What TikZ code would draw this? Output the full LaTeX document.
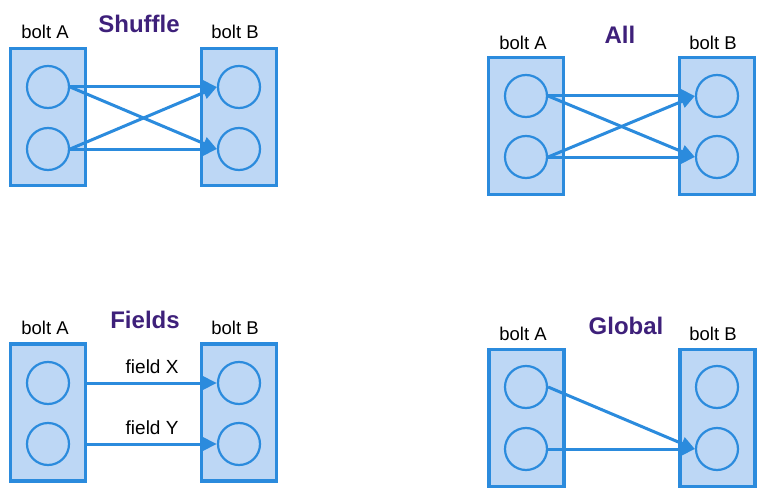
\documentclass[tikz,border=0pt]{standalone}
\usepackage{fontspec}
\setmainfont{Liberation Sans}
\usepackage{tikz}
\usetikzlibrary{arrows.meta,positioning}
\definecolor{boltfill}{RGB}{189,215,245}
\definecolor{boltblue}{RGB}{43,139,221}
\definecolor{grouppurple}{RGB}{62,32,122}

\begin{document}
\begin{tikzpicture}[
  x=1pt,y=-1pt,
  bolt/.style={draw=boltblue,line width=3.6pt,fill=boltfill,minimum width=75pt,
    minimum height=137pt,inner sep=0pt},
  task/.style={circle,draw=boltblue,line width=2.2pt,minimum size=42pt,inner sep=0pt},
  boltname/.style={font=\fontsize{18.5}{20}\selectfont,inner sep=0pt},
  grouping/.style={font=\fontsize{24}{26}\selectfont\bfseries,text=grouppurple,inner sep=0pt},
  fieldname/.style={font=\fontsize{19}{20}\selectfont,text=black,inner sep=0pt},
  stream/.style={-{Triangle[length=14pt,width=13pt]},line width=3pt,boltblue}
]
  \useasboundingbox (0,0) rectangle (769,503);

  % Shuffle
  \node[bolt] (shufA) at (48,117) {};
  \node[bolt] (shufB) at (239,117) {};
  \node[task] (shufA1) at (48,87) {};
  \node[task] (shufA2) at (48,149) {};
  \node[task] (shufB1) at (239,87) {};
  \node[task] (shufB2) at (239,149) {};
  \node[boltname] at (45,32) {bolt A};
  \node[boltname] at (235,32) {bolt B};
  \node[grouping] at (139,24) {Shuffle};
  \draw[stream] (shufA1.east) -- (shufB1.west);
  \draw[stream] (shufA2.east) -- (shufB2.west);
  \draw[stream] (shufA1.east) -- (shufB2.west);
  \draw[stream] (shufA2.east) -- (shufB1.west);

  % All
  \node[bolt] (allA) at (526,126) {};
  \node[bolt] (allB) at (717,126) {};
  \node[task] (allA1) at (526,96) {};
  \node[task] (allA2) at (526,157) {};
  \node[task] (allB1) at (717,96) {};
  \node[task] (allB2) at (717,157) {};
  \node[boltname] at (523,43) {bolt A};
  \node[boltname] at (713,43) {bolt B};
  \node[grouping] at (620,35) {All};
  \draw[stream] (allA1.east) -- (allB1.west);
  \draw[stream] (allA2.east) -- (allB2.west);
  \draw[stream] (allA1.east) -- (allB2.west);
  \draw[stream] (allA2.east) -- (allB1.west);

  % Fields
  \node[bolt] (fldA) at (48,412.5) {};
  \node[bolt] (fldB) at (239,412.5) {};
  \node[task] (fldA1) at (48,383) {};
  \node[task] (fldA2) at (48,444) {};
  \node[task] (fldB1) at (239,383) {};
  \node[task] (fldB2) at (239,444) {};
  \node[boltname] at (45,328) {bolt A};
  \node[boltname] at (235,328) {bolt B};
  \node[grouping] at (145,320) {Fields};
  \draw[stream] (fldA.east |- fldA1) -- node[fieldname,above=8pt] {field X} (fldB1.west);
  \draw[stream] (fldA.east |- fldA2) -- node[fieldname,above=8pt] {field Y} (fldB2.west);

  % Global
  \node[bolt] (globA) at (526.5,418) {};
  \node[bolt] (globB) at (717.5,418) {};
  \node[task] (globA1) at (526,387) {};
  \node[task] (globA2) at (526,449) {};
  \node[task] (globB1) at (717,387) {};
  \node[task] (globB2) at (717,449) {};
  \node[boltname] at (523,334) {bolt A};
  \node[boltname] at (713,334) {bolt B};
  \node[grouping] at (626,326) {Global};
  \draw[stream] (globA1.east) -- (globB2.west);
  \draw[stream] (globA2.east) -- (globB2.west);
\end{tikzpicture}
\end{document}
